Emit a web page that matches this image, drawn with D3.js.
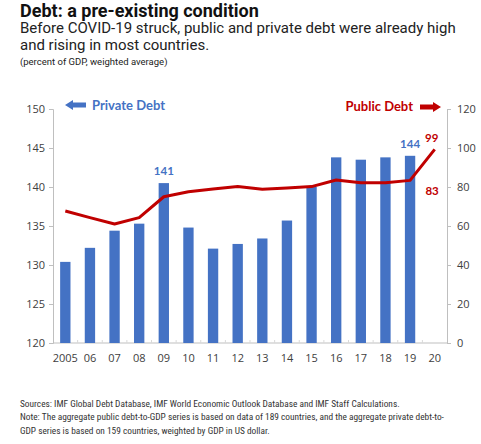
<!DOCTYPE html>
<html>
<head>
<meta charset="utf-8">
<script src="https://cdn.jsdelivr.net/npm/d3@7"></script>
<style>
  body { margin: 0; background: #fff; }
  svg { display: block; }
  .tick text { font-family: "Open Sans", sans-serif; font-size: 11px; fill: #404040; }
  .domain, .tick line { stroke: #bfbfbf; }
</style>
</head>
<body>
<svg width="481" height="444"></svg>
<script>
const years = ["2005", "06", "07", "08", "09", "10", "11", "12", "13", "14", "15", "16", "17", "18", "19", "20"];
const privateDebt = [130.4, 132.2, 134.4, 135.3, 140.5, 134.8, 132.1, 132.7, 133.4, 135.7, 140.0, 143.8, 143.5, 143.8, 144.0, null];
const publicDebt = [67.7, 64.3, 61.0, 64.3, 75.0, 77.6, 79.0, 80.2, 78.8, 79.5, 80.2, 83.6, 82.2, 82.2, 83.4, 99.3];
const leftTicks = [120, 125, 130, 135, 140, 145, 150];
const rightTicks = [0, 20, 40, 60, 80, 100, 120];
const labels = [
  { series: "private", i: 4, text: "141" },
  { series: "private", i: 14, text: "144" },
  { series: "public", i: 15, text: "99" },
  { series: "public", i: 14, text: "83" }
];

const blue = "#4472c4";
const red = "#c00000";

const svg = d3.select("svg");
const plotL = 53, plotR = 447, plotT = 109, plotB = 343;

const x = d3.scaleBand().domain(years).range([plotL, plotR]).paddingInner(0.58).paddingOuter(0.29);
const yL = d3.scaleLinear().domain([120, 150]).range([plotB, plotT]);
const yR = d3.scaleLinear().domain([0, 120]).range([plotB, plotT]);

// titles
svg.append("text").attr("x", 20).attr("y", 17)
  .style("font-family", "Roboto, sans-serif").style("font-weight", "bold")
  .style("font-size", "18px").style("fill", "#111")
  .text("Debt: a pre-existing condition");
["Before COVID-19 struck, public and private debt were already high", "and rising in most countries."]
  .forEach((t, k) => {
    svg.append("text").attr("x", 20).attr("y", 33 + k * 17)
      .style("font-family", "Roboto, sans-serif").style("font-size", "15px").style("fill", "#222")
      .text(t);
  });
svg.append("text").attr("x", 20).attr("y", 65)
  .style("font-family", "Roboto, sans-serif").style("font-size", "9.5px").style("fill", "#222")
  .text("(percent of GDP, weighted average)");

// axes
svg.append("g").attr("transform", `translate(${plotL},0)`)
  .call(d3.axisLeft(yL).tickValues(leftTicks).tickSize(4).tickPadding(4));
svg.append("g").attr("transform", `translate(${plotR},0)`)
  .call(d3.axisRight(yR).tickValues(rightTicks).tickSize(4).tickPadding(6));

const xAxis = svg.append("g").attr("transform", `translate(0,${plotB})`)
  .call(d3.axisBottom(x).tickSize(0).tickPadding(11));
xAxis.select(".domain").attr("d", `M${plotL},0H${plotR}`);
// small category separators
xAxis.selectAll(".sep").data(years.slice(1)).enter().append("line")
  .attr("class", "sep")
  .attr("x1", d => x(d) - x.step() * x.paddingInner() / 2)
  .attr("x2", d => x(d) - x.step() * x.paddingInner() / 2)
  .attr("y1", 0).attr("y2", -3).attr("stroke", "#d9d9d9");

// bars
svg.append("g").selectAll("rect")
  .data(years.map((y, i) => ({ y, v: privateDebt[i] })).filter(d => d.v != null))
  .enter().append("rect")
  .attr("x", d => x(d.y))
  .attr("width", x.bandwidth())
  .attr("y", d => yL(d.v))
  .attr("height", d => plotB - yL(d.v))
  .attr("fill", blue);

// public debt line
const line = d3.line()
  .x((d, i) => x(years[i]) + x.bandwidth() / 2)
  .y(d => yR(d));
svg.append("path").datum(publicDebt)
  .attr("d", line).attr("fill", "none")
  .attr("stroke", red).attr("stroke-width", 3).attr("stroke-linejoin", "round");

// data labels
labels.forEach(l => {
  const cx = x(years[l.i]) + x.bandwidth() / 2;
  let yy, dx = 0, col;
  if (l.series === "private") { yy = yL(privateDebt[l.i]) - 8; col = blue; }
  else if (l.text === "99") { yy = yR(publicDebt[l.i]) - 7; col = red; dx = -3; }
  else { yy = yR(publicDebt[l.i]) + 15; col = red; dx = 22; }
  svg.append("text").attr("x", cx + dx).attr("y", yy)
    .attr("text-anchor", "middle")
    .style("font-family", "Lato, sans-serif").style("font-weight", "bold")
    .style("font-size", "11.5px").style("fill", col)
    .text(l.text);
});

// legend
const arrow = (x0, x1, yc, col) => {
  const dir = x1 > x0 ? 1 : -1;
  const hx = x1 - dir * 8;
  svg.append("path")
    .attr("d", `M${x0},${yc - 2.5}H${hx}V${yc - 5}L${x1},${yc}L${hx},${yc + 5}V${yc + 2.5}H${x0}Z`)
    .attr("fill", col);
};
arrow(86, 65, 105, blue);
svg.append("text").attr("x", 92).attr("y", 110)
  .style("font-family", "Lato, sans-serif").style("font-weight", "bold")
  .style("font-size", "13px").style("fill", blue).text("Private Debt");
arrow(420, 441, 107, red);
svg.append("text").attr("x", 413).attr("y", 111).attr("text-anchor", "end")
  .style("font-family", "Lato, sans-serif").style("font-weight", "bold")
  .style("font-size", "13px").style("fill", red).text("Public Debt");

// footer
["Sources: IMF Global Debt Database, IMF World Economic Outlook Database and IMF Staff Calculations.",
 "Note: The aggregate public debt-to-GDP series is based on data of 189 countries, and the aggregate private debt-to-",
 "GDP series is based on 159 countries, weighted by GDP in US dollar."]
  .forEach((t, k) => {
    svg.append("text").attr("x", 20).attr("y", 406.5 + k * 13.8)
      .style("font-family", "Roboto, sans-serif").style("font-size", "9.35px")
      .style("font-stretch", "condensed").style("fill", "#333")
      .text(t);
  });
</script>
</body>
</html>
